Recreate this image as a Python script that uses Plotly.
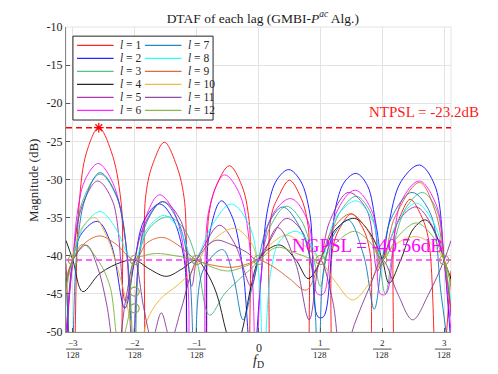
import plotly.graph_objects as go

# f_D in units of 1/128, magnitude in dB, key points
x_l1 = [-3.11, -3.0, -2.9, -2.78, -2.58, -2.38, -2.22, -2.1, -1.95, -1.82, -1.7, -1.52, -1.34, -1.2, -1.06,
        -0.94, -0.8, -0.68, -0.47, -0.27, -0.15, -0.05, 0.08, 0.2, 0.32, 0.5, 0.68, 0.8, 0.92,
        1.08, 1.2, 1.32, 1.5, 1.68, 1.8, 1.92, 2.08, 2.2, 2.3, 2.45, 2.62, 2.75, 2.9, 3.11]
y_l1 = [-41, -60, -33.5, -26.5, -23.2, -26.3, -33, -60, -60, -32, -27.8, -25.1, -27.8, -32.5, -60,
        -60, -34.5, -30.8, -28.2, -30.8, -35.5, -60, -60, -35, -32.3, -30.1, -32.3, -36, -60,
        -60, -39, -36.3, -34.5, -36.3, -39.5, -60, -60, -37, -34.6, -32.6, -34.6, -38, -60, -42]

x_l2 = [-3.11, -3.0, -2.85, -2.6, -2.38, -2.16, -2.0, -1.85, -1.6, -1.38, -1.2, -1.07, -0.93, -0.8, -0.6,
        -0.42, -0.25, -0.1, 0.02, 0.15, 0.3, 0.49, 0.68, 0.83, 0.96, 1.05, 1.25, 1.4, 1.58, 1.76, 1.9,
        2.0, 2.1, 2.3, 2.6, 2.85, 3.0, 3.11]
y_l2 = [-55, -40.56, -37, -35.5, -38.5, -46.9, -40.56, -35.4, -33.2, -35.2, -40.5, -56, -56, -37.5, -32.8,
        -35, -42, -56, -45, -33.8, -30, -28.7, -30.2, -34.5, -48, -48, -33.5, -30.2, -29.2, -30.8, -36,
        -40.56, -36, -30.3, -28.1, -30.8, -40.56, -52]

x_l3 = [-3.11, -3.0, -2.85, -2.56, -2.28, -2.1, -2.0, -1.9, -1.72, -1.45, -1.2, -1.0, -0.79, -0.55, -0.3,
        0.0, 0.2, 0.45, 0.7, 0.88, 1.0, 1.1, 1.3, 1.58, 1.82, 1.95, 2.05, 2.2, 2.4, 2.65, 2.88, 3.0, 3.11]
y_l3 = [-50, -40.56, -33, -29.3, -32.5, -42, -55, -39, -36, -34.9, -36.5, -40.56, -47.8, -45, -43,
        -40.56, -36, -33.5, -35.5, -40, -44, -40, -34.5, -32.2, -34.5, -40.56, -45, -38, -33.5, -31.7, -34, -40.56, -47]

x_l4 = [-3.11, -3.0, -2.84, -2.56, -2.2, -2.0, -1.75, -1.49, -1.25, -1.0, -0.85, -0.68, -0.52, -0.4, -0.27,
        -0.12, 0.0, 0.15, 0.35, 0.6, 0.8, 0.92, 1.0, 1.25, 1.55, 1.8, 2.0, 2.11, 2.3, 2.5, 2.7, 2.88, 3.0, 3.11]
y_l4 = [-38, -40.56, -44.7, -42.3, -40.8, -40.56, -41.8, -42.7, -41.8, -40.56, -42, -44.9, -50, -53, -50,
        -44, -40.56, -39.2, -38.6, -40.5, -43, -42, -40.56, -36.5, -35.1, -37, -40.56, -43.6, -40.5, -36.5, -35.3, -37.5, -40.56, -43]

x_l5 = [-3.11, -3.0, -2.85, -2.6, -2.35, -2.15, -2.0, -1.85, -1.55, -1.25, -1.08, -1.0, -0.9, -0.63, -0.38,
        -0.12, 0.0, 0.15, 0.45, 0.72, 0.9, 1.0, 1.15, 1.45, 1.75, 1.92, 2.0, 2.1, 2.3, 2.55, 2.8, 3.0, 3.11]
y_l5 = [-52, -40.56, -33.5, -30.2, -33, -46, -40.56, -36, -32.9, -35.5, -44, -40.56, -39, -36.0, -38.5,
        -44, -40.56, -38.5, -35.1, -37, -42, -40.56, -35.5, -31.7, -34, -42, -40.56, -38.5, -35, -33.6, -36, -40.56, -48]

x_l6 = [-3.11, -3.0, -2.92, -2.8, -2.59, -2.35, -2.15, -2.04, -1.93, -1.8, -1.6, -1.35, -1.15, -1.05, -0.95,
        -0.8, -0.55, -0.3, -0.12, -0.04, 0.04, 0.2, 0.52, 0.8, 0.95, 1.05, 1.25, 1.56, 1.85, 1.97, 2.06,
        2.3, 2.6, 2.88, 3.0, 3.11]
y_l6 = [-50, -40.56, -34, -30, -27.9, -30.5, -38, -52, -40, -34.5, -32.0, -34.5, -43, -58, -58,
        -34, -29.4, -32, -40.5, -56, -43, -35, -32.5, -35.5, -45, -45, -34.5, -31.4, -34.5, -45, -45,
        -33, -30.2, -33.5, -40.56, -50]

x_l7 = [-3.11, -3.02, -2.94, -2.8, -2.56, -2.3, -2.12, -2.03, -1.93, -1.8, -1.55, -1.3, -1.12, -1.03, -0.9,
        -0.58, -0.4, -0.25, -0.1, 0.0, 0.15, 0.39, 0.65, 0.85, 0.97, 1.05, 1.2, 1.45, 1.7, 1.87, 2.0,
        2.15, 2.48, 2.78, 2.95, 3.11]
y_l7 = [-42, -55, -40, -32.5, -29.1, -32, -40, -55, -40, -35.5, -32.9, -35.5, -42, -55, -42,
        -39.2, -43, -48.4, -44, -40.56, -36, -33.6, -36, -41, -55, -42, -37.5, -35.3, -40, -47, -40.56,
        -35, -31.7, -34.5, -45, -55]

x_l8 = [-3.11, -3.0, -2.85, -2.56, -2.3, -2.1, -2.0, -1.8, -1.52, -1.25, -1.05, -1.0, -0.75, -0.44, -0.15,
        0.0, 0.08, 0.2, 0.35, 0.61, 0.85, 1.0, 1.25, 1.58, 1.85, 2.0, 2.25, 2.55, 2.85, 3.0, 3.11]
y_l8 = [-44, -40.56, -36.5, -34.2, -36.5, -40, -40.56, -36.5, -34.7, -37, -41, -40.56, -36, -33.2, -36,
        -42, -55, -42, -38, -36.8, -38.5, -40.56, -35, -32.8, -35.5, -40.56, -35.5, -33.1, -36, -40.56, -46]

x_l9 = [-3.11, -3.0, -2.8, -2.56, -2.3, -2.0, -1.8, -1.55, -1.3, -1.0, -0.7, -0.4, -0.15, 0.0, 0.25,
        0.5, 0.77, 1.0, 1.2, 1.49, 1.75, 2.0, 2.2, 2.6, 2.85, 3.0, 3.11]
y_l9 = [-43, -40.56, -38.3, -37.4, -38.5, -40.56, -38.3, -37.6, -38.6, -40.56, -41.3, -41.5, -41, -40.56, -41.5,
        -43, -44.5, -40.56, -36.5, -34.5, -36.5, -40.56, -35, -30.4, -34, -40.56, -47]

x_l10 = [-3.11, -3.0, -2.85, -2.65, -2.45, -2.3, -2.13, -2.03, -1.95, -1.8, -1.6, -1.3, -1.06, -0.8, -0.39,
         -0.1, 0.0, 0.2, 0.45, 0.75, 1.0, 1.25, 1.52, 1.8, 2.0, 2.25, 2.55, 2.8, 3.0, 3.11]
y_l10 = [-45, -40, -36.3, -35.0, -37.5, -41, -46.2, -50.5, -54, -48.5, -45.8, -43.8, -41.9, -38.5, -36.4,
         -38.5, -40.56, -38.5, -37.3, -38.7, -40.56, -43.5, -45.8, -43.5, -40.56, -38.3, -37.5, -38.5, -40.56, -44]

x_l11 = [-3.11, -3.0, -2.78, -2.6, -2.45, -2.3, -2.15, -2.0, -1.85, -1.72, -1.57, -1.42, -1.25, -1.0, -0.7,
         -0.45, -0.2, 0.0, 0.31, 0.6, 0.82, 1.0, 1.2, 1.35, 1.55, 1.8, 2.0, 2.25, 2.49, 2.75, 3.0, 3.11]
y_l11 = [-44, -40.56, -38.6, -41.5, -46.5, -54, -46, -40.56, -47, -51, -47.5, -51, -47, -40.56, -38,
         -38.5, -39.5, -40.56, -36.3, -41, -48.4, -40.56, -46, -54, -49, -44, -40.56, -45, -48.4, -45, -40.56, -38]

x_l12 = [-3.11, -3.0, -2.84, -2.6, -2.4, -2.25, -2.1, -2.0, -1.85, -1.65, -1.35, -1.0, -0.75, -0.5, -0.25,
         0.0, 0.3, 0.65, 1.0, 1.25, 1.55, 1.8, 2.0, 2.25, 2.55, 2.8, 3.0, 3.11]
y_l12 = [-44, -40.56, -38.5, -40.5, -44, -52, -48, -40.56, -40, -39.7, -40, -40.56, -41.5, -42, -41.5,
         -40.56, -38.9, -39.8, -40.56, -38.3, -36.8, -38.2, -40.56, -37.5, -35.7, -37.3, -40.56, -44]

colors = ['#ff0000', '#0000ff', '#3cb37a', '#000000', '#a0199f', '#ff00ff',
          '#0072bd', '#00ffff', '#d95319', '#edb120', '#7e2f8e', '#77ac30']
xs = [x_l1, x_l2, x_l3, x_l4, x_l5, x_l6, x_l7, x_l8, x_l9, x_l10, x_l11, x_l12]
ys = [y_l1, y_l2, y_l3, y_l4, y_l5, y_l6, y_l7, y_l8, y_l9, y_l10, y_l11, y_l12]

ntpsl = -23.2
ntpsl_x = -2.58
ngpsl = -40.56
circle_x = [-3, -2, -1, 0, 1, 2, 3, -2, -2]
circle_y = [ngpsl] * 7 + [-44.7, -46.9]

tick_vals = [-3, -2, -1, 0, 1, 2, 3]
tick_nums = ['\u22123', '\u22122', '\u22121', '0', '1', '2', '3']
y_ticks = [-10, -15, -20, -25, -30, -35, -40, -45, -50]

SERIF = 'Liberation Serif, Times New Roman, serif'
INK = '#262626'

fig = go.Figure()
for i in range(12):
    fig.add_trace(go.Scatter(x=xs[i], y=ys[i], mode='lines', showlegend=False, opacity=0.85,
                             line=dict(color=colors[i], width=1, shape='spline', smoothing=1.0)))

# threshold lines as traces spanning the axis range
fig.add_trace(go.Scatter(x=[-3.11, 3.11], y=[ntpsl, ntpsl], mode='lines', showlegend=False,
                         line=dict(color='#ff0000', width=1.5, dash='6px,4px')))
fig.add_trace(go.Scatter(x=[-3.11, 3.11], y=[ngpsl, ngpsl], mode='lines', showlegend=False,
                         line=dict(color='#ff33ff', width=1.5, dash='6px,4px')))

fig.add_trace(go.Scatter(x=circle_x, y=circle_y, mode='markers', showlegend=False,
                         marker=dict(symbol='circle-open', size=9, color='#9a9a55', line=dict(width=1.2))))
fig.add_trace(go.Scatter(x=[ntpsl_x], y=[ntpsl], mode='markers', showlegend=False,
                         marker=dict(symbol='asterisk-open', size=8, color='red', line=dict(width=1.2))))

fig.add_annotation(x=2.68, y=-21.15, text='NTPSL = -23.2dB', showarrow=False,
                   font=dict(family=SERIF, size=15, color='#ff1a1a'))
fig.add_annotation(x=1.76, y=-38.6, text='NGPSL = -40.56dB', showarrow=False,
                   font=dict(family=SERIF, size=19, color='#ff00ff'))

# x tick labels as stacked fractions
for v, n in zip(tick_vals, tick_nums):
    if v == 0:
        fig.add_annotation(x=v, y=-0.052, xref='x', yref='paper', yanchor='middle', text='0',
                           showarrow=False, font=dict(family=SERIF, size=12, color=INK))
        continue
    fig.add_annotation(x=v, y=-0.036, xref='x', yref='paper', yanchor='middle', text=n, showarrow=False,
                       font=dict(family=SERIF, size=9, color=INK))
    fig.add_annotation(x=v, y=-0.075, xref='x', yref='paper', yanchor='middle', text='128', showarrow=False,
                       font=dict(family=SERIF, size=9, color=INK))
    fig.add_shape(type='line', xref='x', yref='paper', x0=v - 0.15, x1=v + 0.15, y0=-0.056, y1=-0.056,
                  line=dict(color=INK, width=0.8))

fig.add_annotation(x=0, y=-0.098, xref='x', yref='paper', yanchor='middle', text='<i>f</i><sub>D</sub>',
                   showarrow=False, font=dict(family=SERIF, size=14, color=INK))
fig.add_annotation(x=-0.086, y=0.498, xref='paper', yref='paper', xanchor='center', yanchor='middle',
                   text='Magnitude (dB)', showarrow=False, textangle=-90,
                   font=dict(family=SERIF, size=13, color=INK))

# legend drawn as a box with two columns
fig.add_shape(type='rect', xref='paper', yref='paper', x0=0.018, x1=0.382, y0=0.695, y1=0.970,
              fillcolor='white', line=dict(color=INK, width=1), layer='above')
for i in range(12):
    col, row = divmod(i, 6)
    yy = 0.9395 - row * 0.0426
    lx0 = 0.0286 if col == 0 else 0.205
    fig.add_shape(type='line', xref='paper', yref='paper', x0=lx0, x1=lx0 + 0.095, y0=yy, y1=yy,
                  line=dict(color=colors[i], width=1.3), opacity=0.85, layer='above')
    fig.add_annotation(x=lx0 + 0.106, y=yy, xref='paper', yref='paper', xanchor='left', yanchor='middle',
                       text='<i>l</i> = %d' % (i + 1), showarrow=False,
                       font=dict(family=SERIF, size=11.5, color=INK))

fig.add_shape(type='rect', xref='paper', yref='paper', x0=0, x1=1, y0=0, y1=1,
              line=dict(color='#e3e3e3', width=1), layer='below')

# page body has an 8px margin, so the figure is drawn 8px smaller and shifted
fig.update_layout(
    width=490, height=366,
    margin=dict(l=58, r=47, t=19, b=42),
    paper_bgcolor='white', plot_bgcolor='white',
    title=dict(text='DTAF of each lag (GMBI-<i>P</i><sup><i>ac</i></sup> Alg.)', x=0.52, y=0.973,
               xanchor='center', yanchor='middle', font=dict(family=SERIF, size=13.5, color='#1a1a1a')),
    font=dict(family=SERIF, color=INK),
    xaxis=dict(range=[-3.11, 3.11], tickvals=tick_vals, ticktext=[''] * 7, showgrid=True,
               gridcolor='#e3e3e3', zeroline=False, showline=True, linecolor='#8a8a8a',
               ticks='inside', ticklen=4, tickcolor='#555'),
    yaxis=dict(range=[-50, -10], tickvals=y_ticks, ticktext=[str(t) for t in y_ticks], showgrid=True,
               gridcolor='#e3e3e3', zeroline=False, showline=True, linecolor='#8a8a8a',
               ticks='inside', ticklen=4, tickcolor='#555', tickfont=dict(size=12)),
)

fig.write_html("out.html")
